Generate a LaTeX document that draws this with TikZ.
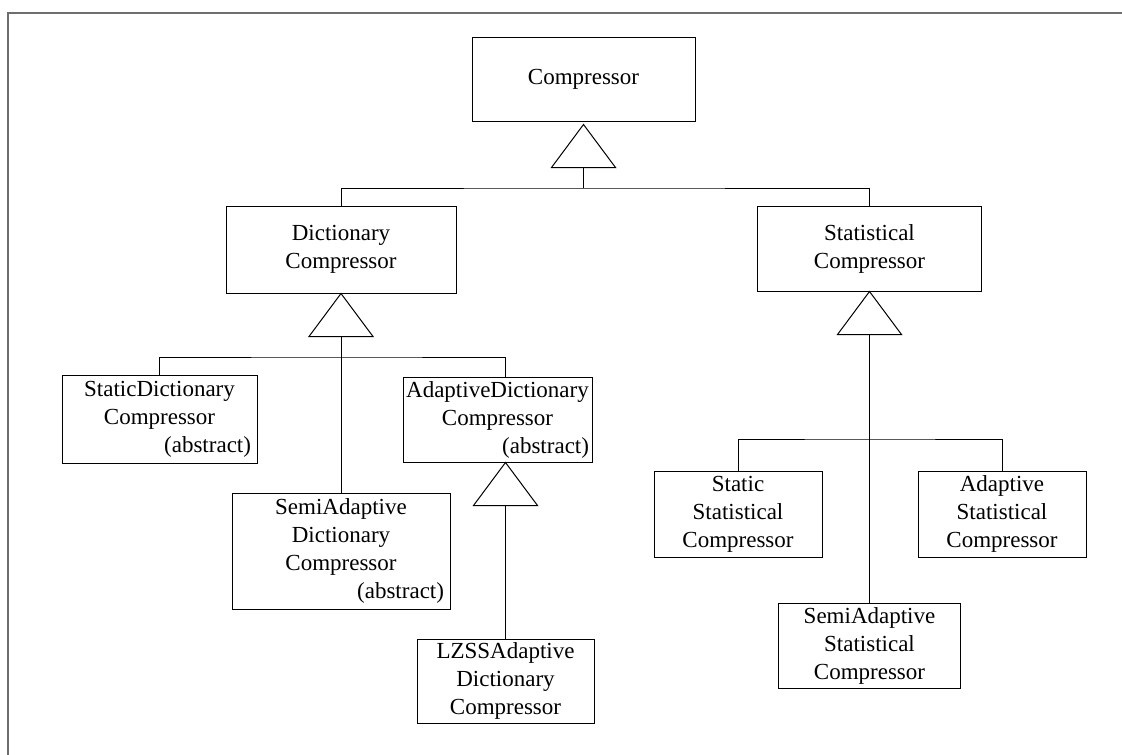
\documentclass[tikz,border=0pt]{standalone}
\usepackage{fontspec}
\setmainfont{Liberation Serif}
\definecolor{framegray}{RGB}{110,110,110}
\begin{document}
\begin{tikzpicture}[x=1pt,y=-1pt,
  cls/.style={draw, line width=1pt, inner sep=0pt, align=center,
              font=\fontsize{23}{28}\selectfont},
  link/.style={line width=1pt},
  frameline/.style={line width=2pt, framegray},
  inh/.pic={
    \draw[line width=1pt, fill=white] (0,0) -- (-32,43) -- (32,43) -- cycle;
    \coordinate (-base) at (0,43);
  }]
\useasboundingbox (0,0) rectangle (1122,755);

% page frame
\draw[frameline] (8,755) -- (8,13) -- (1122,13);

% classes
\node[cls, minimum width=223pt, minimum height=84pt, text width=211pt] (comp) at (583.5,79) {Compressor};
\node[cls, minimum width=230pt, minimum height=87pt, text width=218pt] (dict) at (341,249.5) {Dictionary\\Compressor};
\node[cls, minimum width=224pt, minimum height=85pt, text width=212pt] (stat) at (869.5,248.5) {Statistical\\Compressor};
\node[cls, minimum width=195pt, minimum height=88pt, text width=183pt] (sdict) at (159.5,419) {StaticDictionary\\Compressor\\\hfill(abstract)};
\node[cls, minimum width=189pt, minimum height=85pt, text width=183pt] (adict) at (497.5,419.5) {AdaptiveDictionary\\Compressor\\\hfill(abstract)};
\node[cls, minimum width=218pt, minimum height=116pt, text width=206pt] (semidict) at (341,551) {SemiAdaptive\\Dictionary\\Compressor\\\hfill(abstract)};
\node[cls, minimum width=177pt, minimum height=84pt, text width=165pt] (lzss) at (505.5,681) {LZSSAdaptive\\Dictionary\\Compressor};
\node[cls, minimum width=168pt, minimum height=86pt, text width=156pt] (sstat) at (738,514) {Static\\Statistical\\Compressor};
\node[cls, minimum width=168pt, minimum height=86pt, text width=156pt] (astat) at (1002,514) {Adaptive\\Statistical\\Compressor};
\node[cls, minimum width=182pt, minimum height=85pt, text width=170pt] (semistat) at (869.5,645.5) {SemiAdaptive\\Statistical\\Compressor};

% generalization triangles
\pic (t0) at ([yshift=-3pt]comp.south) {inh};
\pic (t1) at (dict.south) {inh};
\pic (t2) at (stat.south) {inh};
\pic (t3) at (lzss.north |- adict.south) {inh};

% junctions of the branching lines
\coordinate (j0) at (583.5,188);
\coordinate (j1) at (341,357);
\coordinate (j2) at (869.5,439);

% inheritance lines
\draw[link] (t0-base) -- (j0);
\draw[link] (dict.north) |- (j0) -| (stat.north);

\draw[link] (t1-base) -- (semidict.north);
\draw[link] (sdict.north) |- (j1) -| (lzss.north |- adict.north);

\draw[link] (t2-base) -- (semistat.north);
\draw[link] (sstat.north) |- (j2) -| (astat.north);

\draw[link] (t3-base) -- (lzss.north);
\end{tikzpicture}
\end{document}
